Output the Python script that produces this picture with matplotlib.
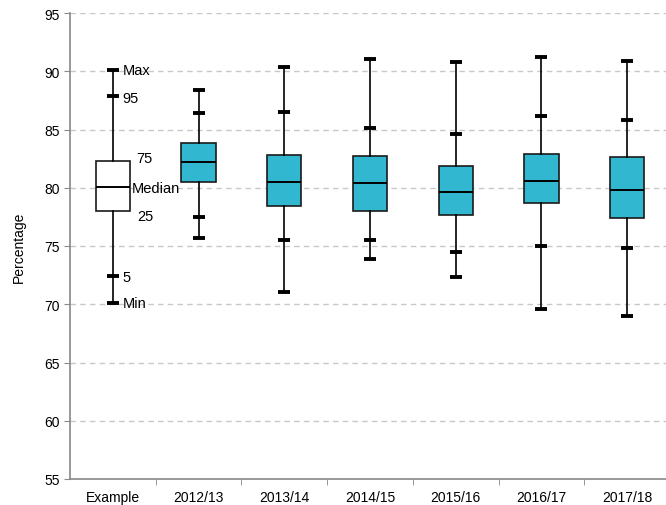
import matplotlib
matplotlib.use("Agg")
import matplotlib.pyplot as plt
import numpy as np

plt.rcParams['font.family'] = ['Liberation Sans', 'DejaVu Sans']

categories = ["Example", "2012/13", "2013/14", "2014/15", "2015/16", "2016/17", "2017/18"]
mins   = [70.15, 75.72, 71.09, 73.86, 72.37, 69.63, 69.03]
p5     = [72.40, 77.52, 75.55, 75.55, 74.52, 75.00, 74.86]
q1     = [77.97, 80.48, 78.43, 78.03, 77.63, 78.68, 77.43]
medians= [80.09, 82.20, 80.46, 80.37, 79.66, 80.54, 79.77]
q3     = [82.32, 83.86, 82.80, 82.71, 81.83, 82.89, 82.60]
p95    = [87.89, 86.43, 86.52, 85.15, 84.63, 86.18, 85.83]
maxs   = [90.12, 88.35, 90.38, 91.06, 90.80, 91.23, 90.89]

fig = plt.figure(figsize=(6.66, 5.06), dpi=100)
ax = fig.add_axes([70/666, 26/506, 600/666, 466/506])

stats = []
for i, c in enumerate(categories):
    stats.append(dict(label=c, whislo=mins[i], q1=q1[i], med=medians[i],
                      q3=q3[i], whishi=maxs[i], fliers=[]))

pos = np.arange(len(categories))
bp = ax.bxp(stats, positions=pos, widths=0.4, patch_artist=True, showfliers=False,
            boxprops=dict(edgecolor='#1a1a1a', linewidth=1.2),
            medianprops=dict(color='black', linewidth=1.4),
            whiskerprops=dict(color='black', linewidth=1.2),
            capprops=dict(color='black', linewidth=2.8, solid_capstyle='butt'),
            capwidths=0.14, zorder=3)
for i, b in enumerate(bp['boxes']):
    b.set_facecolor('white' if i == 0 else '#31B8D0')

ax.plot(pos, p5, linestyle='none', marker='_', markersize=8.6, mew=2.8, color='black', zorder=4)
ax.plot(pos, p95, linestyle='none', marker='_', markersize=8.6, mew=2.8, color='black', zorder=4)

# Example annotations
fs = 10
afs = 10.5
ax.text(0.11, maxs[0], "Max", va='center', ha='left', fontsize=afs)
ax.text(0.11, p95[0] - 0.15, "95", va='center', ha='left', fontsize=afs)
ax.text(0.27, q3[0] + 0.25, "75", va='center', ha='left', fontsize=afs)
ax.text(0.22, medians[0] - 0.1, "Median", va='center', ha='left', fontsize=afs)
ax.text(0.29, q1[0] - 0.4, "25", va='center', ha='left', fontsize=afs)
ax.text(0.11, p5[0] - 0.1, "5", va='center', ha='left', fontsize=afs)
ax.text(0.11, mins[0], "Min", va='center', ha='left', fontsize=afs)

ax.set_xlim(-0.5, 6.5)
ax.set_ylim(55, 95)
ax.set_yticks(np.arange(55, 96, 5))
ax.set_xticks(pos)
ax.set_xticklabels(categories, fontsize=fs)
ax.set_xticks(np.arange(0.5, 6.5, 1), minor=True)
ax.tick_params(axis='x', which='major', length=0, pad=8)
ax.tick_params(axis='x', which='minor', length=4, color='#888888')
ax.tick_params(axis='y', length=4, color='#888888', labelsize=fs)
ax.set_ylabel("Percentage", fontsize=fs, labelpad=13)

for y in range(60, 96, 5):
    ax.axhline(y, color='#c8c8c8', linestyle=(0, (4, 3)), linewidth=1, zorder=0)

for s in ['top', 'right']:
    ax.spines[s].set_visible(False)
for s in ['left', 'bottom']:
    ax.spines[s].set_color('#888888')
    ax.spines[s].set_linewidth(1.2)

fig.savefig("out.png", dpi=100)
